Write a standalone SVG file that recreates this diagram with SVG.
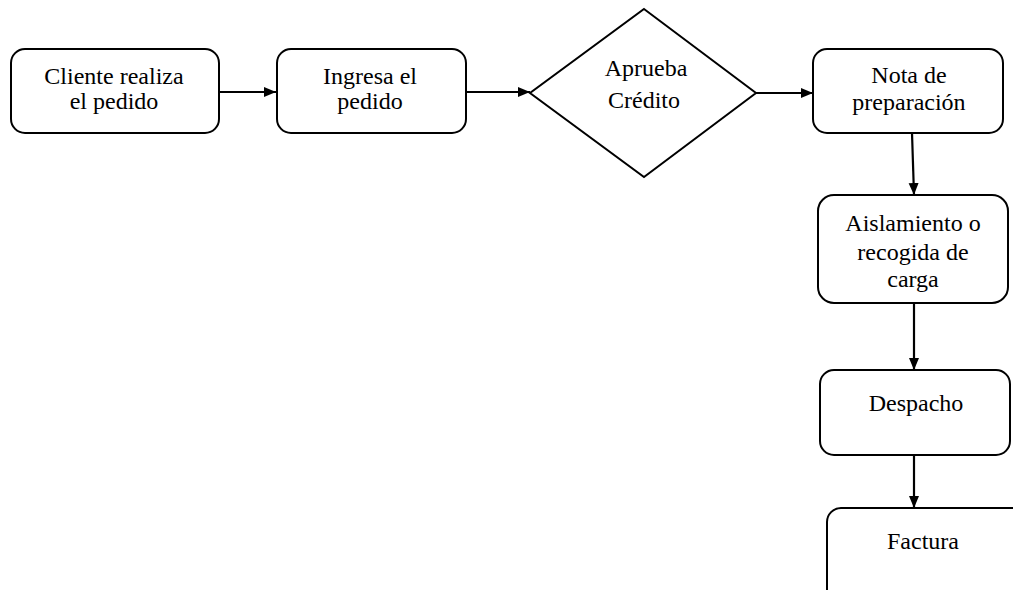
<svg xmlns="http://www.w3.org/2000/svg" width="1013" height="590" viewBox="0 0 1013 590">
<style>
.box{fill:#fff;stroke:#000;stroke-width:2}
.t{font-family:"Liberation Serif","Times New Roman",serif;font-size:24px;fill:#000;text-anchor:middle}
.c{fill:none;stroke:#000;stroke-width:2.2}
</style>
<defs>
<marker id="ah" markerUnits="userSpaceOnUse" markerWidth="13" markerHeight="11" refX="12" refY="5.5" orient="auto">
<path d="M0,0.5 L12,5.5 L0,10.5 z" fill="#000"/>
</marker>
</defs>
<rect width="1013" height="590" fill="#fff"/>
<g id="connectors">
<line class="c" x1="219" y1="92" x2="276" y2="92" marker-end="url(#ah)"/>
<line class="c" x1="466" y1="92" x2="530" y2="92" marker-end="url(#ah)"/>
<line class="c" x1="756" y1="93" x2="813" y2="93" marker-end="url(#ah)"/>
<line class="c" x1="912" y1="133" x2="914" y2="195" marker-end="url(#ah)"/>
<line class="c" x1="914" y1="303" x2="914" y2="370" marker-end="url(#ah)"/>
<line class="c" x1="914" y1="455" x2="914" y2="508" marker-end="url(#ah)"/>
</g>
<g id="n1">
<rect class="box" x="11" y="49" width="208" height="84" rx="14"/>
<text class="t" x="114" y="84">Cliente realiza</text>
<text class="t" x="114" y="109">el pedido</text>
</g>
<g id="n2">
<rect class="box" x="277" y="49" width="189" height="84" rx="14"/>
<text class="t" x="370" y="84">Ingresa el</text>
<text class="t" x="370" y="109">pedido</text>
</g>
<g id="n3">
<polygon class="box" points="644,9 756,93 644,177 530,93"/>
<text class="t" x="646" y="76">Aprueba</text>
<text class="t" x="644" y="108">Crédito</text>
</g>
<g id="n4">
<rect class="box" x="813" y="49" width="190" height="84" rx="14"/>
<text class="t" x="909" y="83">Nota de</text>
<text class="t" x="909" y="110">preparación</text>
</g>
<g id="n5">
<rect class="box" x="818" y="195" width="190" height="108" rx="16"/>
<text class="t" x="913" y="231">Aislamiento o</text>
<text class="t" x="913" y="260">recogida de</text>
<text class="t" x="913" y="287">carga</text>
</g>
<g id="n6">
<rect class="box" x="820" y="370" width="190" height="85" rx="14"/>
<text class="t" x="916" y="411">Despacho</text>
</g>
<g id="n7">
<rect class="box" x="827" y="508" width="200" height="100" rx="14"/>
<text class="t" x="923" y="549">Factura</text>
</g>
</svg>
